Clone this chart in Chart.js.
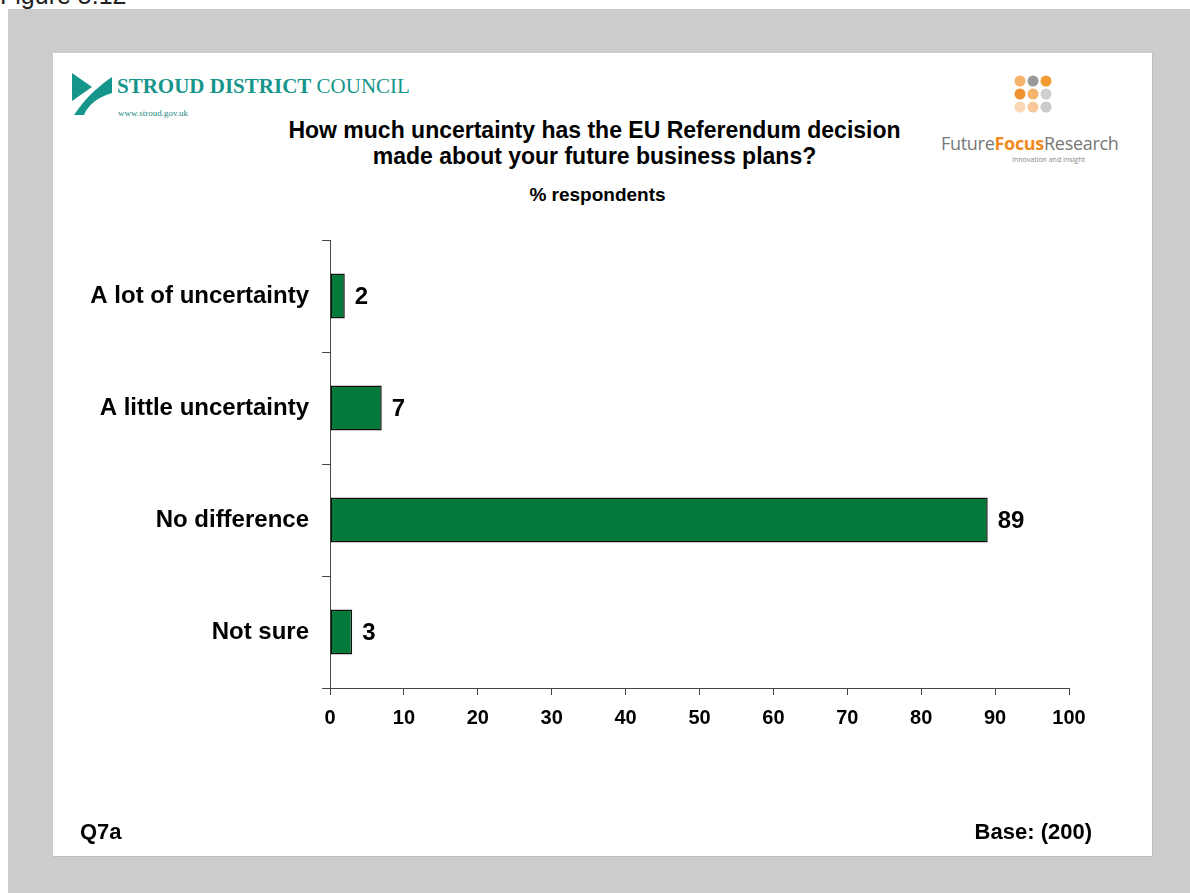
<!DOCTYPE html>
<html>
<head>
<meta charset="utf-8">
<script src="https://cdn.jsdelivr.net/npm/chart.js@4.4.1/dist/chart.umd.min.js"></script>
<style>
  body { margin: 0; width: 1190px; height: 893px; background: #fff; position: relative; overflow: hidden; font-family: "Liberation Sans", Arial, sans-serif; }
  #figLabel { position: absolute; left: 0; top: -19px; font-size: 25px; color: #222; }
  #frame { position: absolute; left: 8px; top: 9px; width: 1182px; height: 884px; background: #cccccc; }
  #panel { position: absolute; left: 53px; top: 53px; width: 1099px; height: 803px; background: #fff; box-shadow: 1px 1px 0 #bbb; }
  #chartBox { position: absolute; left: 0; top: 0; width: 1099px; height: 803px; }
  .title { position: absolute; width: 1099px; text-align: center; font-weight: bold; color: #000; }
  .foot { position: absolute; top: 766px; font-weight: bold; font-size: 22px; color: #000; }
  .stroud { position: absolute; left: 17px; top: 18px; }
  .stroud .name { position: absolute; left: 47px; top: 3px; white-space: nowrap; font-family: "Liberation Serif", "DejaVu Serif", serif; font-size: 21px; color: #16958a; }
  .stroud .web { position: absolute; left: 48px; top: 37px; white-space: nowrap; font-family: "Liberation Serif", serif; font-size: 9px; color: #1d8a80; }
  .ffr { position: absolute; left: 887px; top: 22px; width: 180px; }
  .ffr .word { position: absolute; left: 1px; top: 56px; white-space: nowrap; font-family: "Open Sans", "Noto Sans", sans-serif; font-size: 18px; color: #777; letter-spacing: -0.3px; }
  .ffr .word b { color: #f08a1c; }
  .ffr .tag { position: absolute; left: 72px; top: 80px; white-space: nowrap; font-family: "Open Sans", sans-serif; font-size: 7px; color: #888; }
</style>
</head>
<body>
<div id="figLabel">Figure 5.12</div>
<div id="frame"></div>
<div id="panel">
  <div class="stroud">
    <svg width="44" height="46" viewBox="0 0 44 46">
      <path d="M2 2 L22 16 L2 30 Z" fill="#16958a"/>
      <path d="M4 44 C14 30 22 20 42 6 L42 22 C28 26 18 34 14 44 Z" fill="#16958a"/>
    </svg>
    <div class="name"><b>STROUD DISTRICT</b> COUNCIL</div>
    <div class="web">www.stroud.gov.uk</div>
  </div>
  <div class="ffr">
    <svg style="position:absolute;left:74px;top:0" width="40" height="40" viewBox="0 0 40 40">
      <circle cx="6" cy="6" r="5.5" fill="#f6b26b"/>
      <circle cx="19" cy="6" r="5.5" fill="#9a9a9a"/>
      <circle cx="32" cy="6" r="5.5" fill="#f39a33"/>
      <circle cx="6" cy="19" r="5.5" fill="#f0922f"/>
      <circle cx="19" cy="19" r="5.5" fill="#f6b36c"/>
      <circle cx="32" cy="19" r="5.5" fill="#cfcfcf"/>
      <circle cx="6" cy="32" r="5.5" fill="#fbd7b3"/>
      <circle cx="19" cy="32" r="5.5" fill="#f8c89a"/>
      <circle cx="32" cy="32" r="5.5" fill="#cacaca"/>
    </svg>
    <div class="word">Future<b>Focus</b>Research</div>
    <div class="tag">Innovation and Insight</div>
  </div>
  <div class="title" style="left:-8px;top:64px;font-size:23px;line-height:26px;">How much uncertainty has the EU Referendum decision<br>made about your future business plans?</div>
  <div class="title" style="left:-5px;top:131px;font-size:19px;">% respondents</div>
  <div id="chartBox"><canvas id="chart"></canvas></div>
  <div class="foot" style="left:27px;">Q7a</div>
  <div class="foot" style="right:60px;">Base: (200)</div>
</div>

<script>
"use strict"

// answers and % of respondents
const answers = ['A lot of uncertainty', 'A little uncertainty', 'No difference', 'Not sure'];
const percents = [2, 7, 89, 3];
const axisTicks = [0, 10, 20, 30, 40, 50, 60, 70, 80, 90, 100];

// writes each bar's value just past its end
const valueLabels = {
    id: 'valueLabels',
    afterDatasetsDraw(chart) {
        const ctx = chart.ctx;
        const meta = chart.getDatasetMeta(0);
        ctx.save();
        ctx.font = 'bold 24px "Liberation Sans", Arial, sans-serif';
        ctx.fillStyle = '#000';
        ctx.textAlign = 'left';
        ctx.textBaseline = 'middle';
        meta.data.forEach(function (bar, i) {
            ctx.fillText(String(percents[i]), bar.x + 10, bar.y + 1);
        });
        ctx.restore();
    }
};

const config = {
    type: 'bar',
    data: {
        labels: answers,
        datasets: [{
            label: '% respondents',
            data: percents,
            backgroundColor: '#037a3a',
            borderColor: '#111',
            borderWidth: 1.5,
            borderSkipped: false,
            categoryPercentage: 1,
            barPercentage: 0.4
        }]
    },
    options: {
        indexAxis: 'y',
        responsive: true,
        maintainAspectRatio: false,
        animation: false,
        layout: { padding: { top: 187, right: 83, left: 0, bottom: 0 } },
        plugins: {
            legend: { display: false },
            tooltip: { enabled: false }
        },
        scales: {
            x: {
                min: 0,
                max: 100,
                afterFit(scale) { scale.height = 168; },
                afterBuildTicks(scale) { scale.ticks = axisTicks.map(v => ({ value: v })); },
                grid: { drawOnChartArea: false, tickLength: 7, color: '#444' },
                border: { color: '#444', width: 1 },
                ticks: {
                    padding: 11,
                    color: '#000',
                    font: { family: '"Liberation Sans", Arial, sans-serif', size: 20, weight: 'bold' }
                }
            },
            y: {
                offset: true,
                afterFit(scale) { scale.width = 277; },
                grid: { drawOnChartArea: false, offset: true, tickLength: 8, color: '#444' },
                border: { color: '#444', width: 1 },
                ticks: {
                    padding: 13,
                    color: '#000',
                    font: { family: '"Liberation Sans", Arial, sans-serif', size: 24, weight: 'bold' }
                }
            }
        }
    },
    plugins: [valueLabels]
};

const chartCanvas = document.getElementById('chart');
window.myChart = new Chart(chartCanvas, config);
</script>
</body>
</html>
